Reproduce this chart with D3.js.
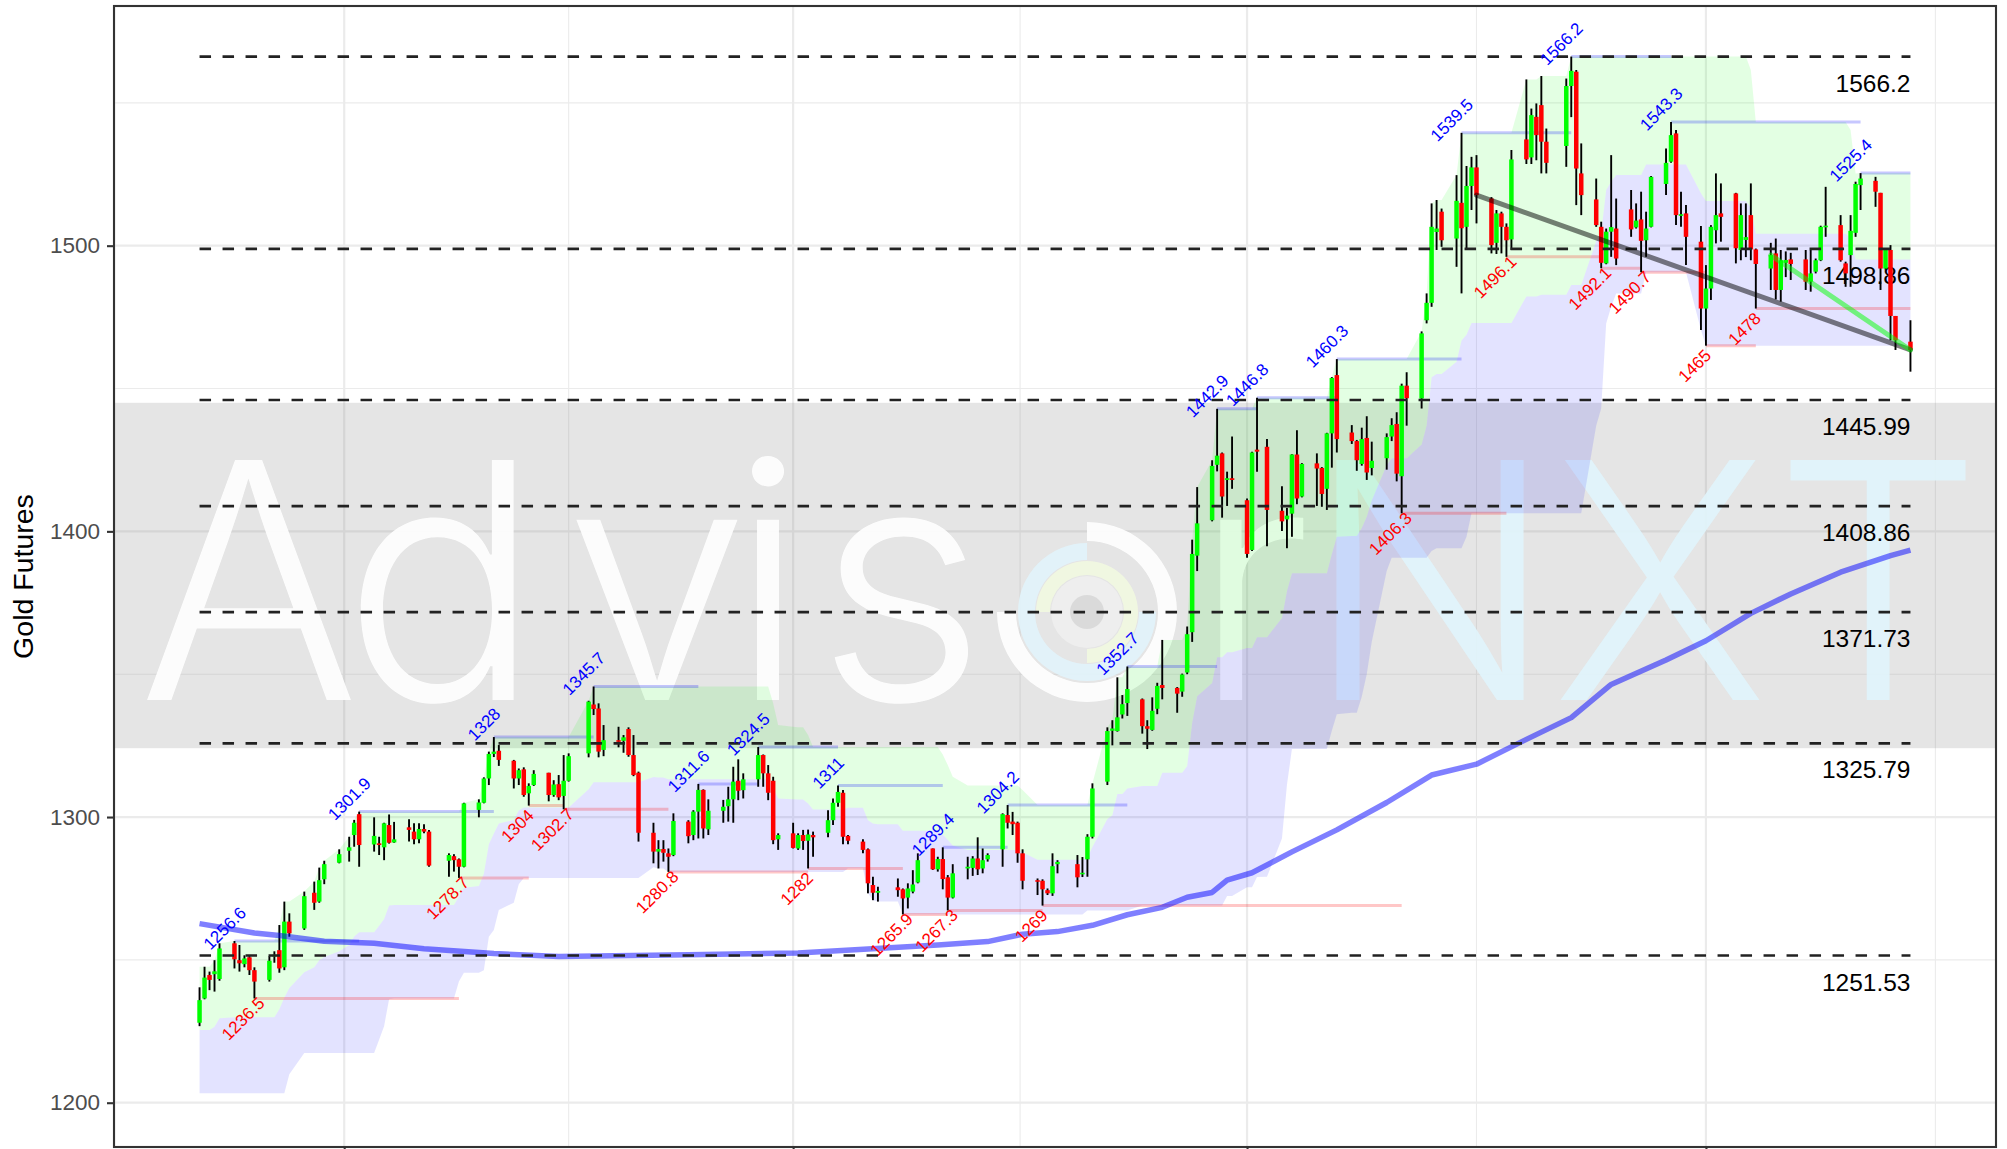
<!DOCTYPE html>
<html>
<head>
<meta charset="utf-8">
<script src="https://cdn.jsdelivr.net/npm/d3@7"></script>
<style>
  body { margin: 0; background: #fff; }
  svg { display: block; }
</style>
</head>
<body>
<div id="chart"></div>
<script>
// ---- candles (daily gold futures) ----
const dates = [
  "2018-12-03","2018-12-04","2018-12-05","2018-12-06","2018-12-07",
  "2018-12-10","2018-12-11","2018-12-12","2018-12-13","2018-12-14",
  "2018-12-17","2018-12-18","2018-12-19","2018-12-20","2018-12-21",
  "2018-12-24","2018-12-26","2018-12-27","2018-12-28",
  "2018-12-31","2019-01-02","2019-01-03","2019-01-04",
  "2019-01-07","2019-01-08","2019-01-09","2019-01-10","2019-01-11",
  "2019-01-14","2019-01-15","2019-01-16","2019-01-17","2019-01-18",
  "2019-01-22","2019-01-23","2019-01-24","2019-01-25",
  "2019-01-28","2019-01-29","2019-01-30","2019-01-31","2019-02-01",
  "2019-02-04","2019-02-05","2019-02-06","2019-02-07","2019-02-08",
  "2019-02-11","2019-02-12","2019-02-13","2019-02-14","2019-02-15",
  "2019-02-19","2019-02-20","2019-02-21","2019-02-22",
  "2019-02-25","2019-02-26","2019-02-27","2019-02-28","2019-03-01",
  "2019-03-04","2019-03-05","2019-03-06","2019-03-07","2019-03-08",
  "2019-03-11","2019-03-12","2019-03-13","2019-03-14","2019-03-15",
  "2019-03-18","2019-03-19","2019-03-20","2019-03-21","2019-03-22",
  "2019-03-25","2019-03-26","2019-03-27","2019-03-28","2019-03-29",
  "2019-04-01","2019-04-02","2019-04-03","2019-04-04","2019-04-05",
  "2019-04-08","2019-04-09","2019-04-10","2019-04-11","2019-04-12",
  "2019-04-15","2019-04-16","2019-04-17","2019-04-18",
  "2019-04-22","2019-04-23","2019-04-24","2019-04-25","2019-04-26",
  "2019-04-29","2019-04-30","2019-05-01","2019-05-02","2019-05-03",
  "2019-05-06","2019-05-07","2019-05-08","2019-05-09","2019-05-10",
  "2019-05-13","2019-05-14","2019-05-15","2019-05-16","2019-05-17",
  "2019-05-20","2019-05-21","2019-05-22","2019-05-23","2019-05-24",
  "2019-05-28","2019-05-29","2019-05-30","2019-05-31",
  "2019-06-03","2019-06-04","2019-06-05","2019-06-06","2019-06-07",
  "2019-06-10","2019-06-11","2019-06-12","2019-06-13","2019-06-14",
  "2019-06-17","2019-06-18","2019-06-19","2019-06-20","2019-06-21",
  "2019-06-24","2019-06-25","2019-06-26","2019-06-27","2019-06-28",
  "2019-07-01","2019-07-02","2019-07-03","2019-07-05",
  "2019-07-08","2019-07-09","2019-07-10","2019-07-11","2019-07-12",
  "2019-07-15","2019-07-16","2019-07-17","2019-07-18","2019-07-19",
  "2019-07-22","2019-07-23","2019-07-24","2019-07-25","2019-07-26",
  "2019-07-29","2019-07-30","2019-07-31","2019-08-01","2019-08-02",
  "2019-08-05","2019-08-06","2019-08-07","2019-08-08","2019-08-09",
  "2019-08-12","2019-08-13","2019-08-14","2019-08-15","2019-08-16",
  "2019-08-19","2019-08-20","2019-08-21","2019-08-22","2019-08-23",
  "2019-08-26","2019-08-27","2019-08-28","2019-08-29","2019-08-30",
  "2019-09-03","2019-09-04","2019-09-05","2019-09-06",
  "2019-09-09","2019-09-10","2019-09-11","2019-09-12","2019-09-13",
  "2019-09-16","2019-09-17","2019-09-18","2019-09-19","2019-09-20",
  "2019-09-23","2019-09-24","2019-09-25","2019-09-26","2019-09-27",
  "2019-09-30","2019-10-01","2019-10-02","2019-10-03","2019-10-04",
  "2019-10-07","2019-10-08","2019-10-09","2019-10-10","2019-10-11",
  "2019-10-14","2019-10-15","2019-10-16","2019-10-17","2019-10-18",
  "2019-10-21","2019-10-22","2019-10-23","2019-10-24","2019-10-25",
  "2019-10-28","2019-10-29","2019-10-30","2019-10-31","2019-11-01",
  "2019-11-04","2019-11-05","2019-11-06","2019-11-07","2019-11-08",
  "2019-11-11"
];

const opens = [
  1228.0,1236.5,1244.7,1245.0,1243.3, 1255.8,1249.9,1248.5,1250.9,1246.4,
  1243.0,1251.2,1253.4,1247.4,1263.4, 1261.0,1273.5,1270.4,1278.2,
  1284.0,1288.2,1293.7,1301.0, 1290.4,1290.8,1289.4,1297.2,1291.1,
  1296.4,1294.9,1292.2,1295.8,1294.9, 1284.7,1286.3,1285.2,1282.6,
  1302.5,1305.0,1313.5,1322.1,1323.2, 1319.7,1313.5,1316.7,1308.3,1311.2,
  1315.5,1307.7,1311.5,1307.4,1312.7, 1322.3,1339.4,1338.0,1323.5,
  1326.9,1326.7,1330.8,1321.7,1315.5, 1294.5,1287.9,1288.8,1287.3,1286.7,
  1298.4,1293.7,1301.9,1309.5,1295.7, 1302.2,1303.8,1306.2,1312.7,1309.4,
  1313.2,1321.7,1315.3,1312.7,1292.2, 1294.3,1289.0,1293.7,1291.7,1293.7,
  1294.5,1298.9,1305.0,1308.5,1293.4, 1291.4,1288.7,1276.2,1273.5,
  1275.4,1274.7,1271.8,1273.9,1277.1, 1289.0,1281.7,1285.3,1278.9,1271.8,
  1282.0,1282.2,1285.5,1282.0,1285.2, 1288.7,1300.7,1298.4,1298.0,1287.3,
  1277.9,1277.7,1274.4,1273.3,1283.5, 1283.5,1280.0,1285.2,1293.1,
  1312.4,1330.2,1330.1,1335.9,1339.9, 1341.2,1331.8,1330.5,1337.9,1346.2,
  1345.2,1343.9,1350.6,1364.7,1391.5, 1403.9,1423.3,1427.3,1418.0,1418.6,
  1410.9,1393.5,1428.6,1429.6, 1407.2,1404.2,1406.2,1426.9,1412.2,
  1423.8,1422.2,1414.9,1434.3,1454.7, 1434.6,1431.6,1423.6,1432.7,1422.2,
  1425.6,1433.2,1437.6,1419.3,1451.0, 1446.5,1473.9,1480.0,1504.8,1511.9,
  1502.5,1515.0,1506.6,1520.9,1527.4, 1516.5,1501.0,1511.3,1506.6,1502.2,
  1537.2,1530.9,1545.1,1549.2,1536.4, 1534.9,1555.9,1560.9,1525.3,
  1516.2,1506.6,1493.8,1504.9,1506.0, 1512.7,1506.4,1509.2,1501.9,1506.6,
  1521.6,1529.4,1539.3,1510.5,1511.3, 1501.4,1478.0,1485.0,1505.4,1511.3,
  1518.3,1498.5,1502.0,1510.7,1498.7, 1492.0,1497.3,1484.5,1494.0,1495.2,
  1495.2,1487.4,1490.9,1494.9,1506.6, 1507.2,1493.8,1496.7,1504.5,1521.2,
  1522.7,1518.5,1492.0,1498.5,1475.4, 1466.4
];

const highs = [
  1240.4,1247.6,1245.9,1249.9,1255.8, 1256.6,1255.2,1251.6,1251.3,1247.4,
  1251.3,1253.0,1262.2,1270.4,1266.3, 1273.9,1277.4,1282.3,1284.7,
  1288.7,1293.1,1299.0,1301.9, 1299.9,1293.1,1298.0,1300.9,1298.3,
  1299.2,1297.8,1297.8,1297.5,1295.5, 1287.3,1287.0,1285.5,1305.0,
  1306.2,1313.9,1322.9,1328.0,1325.2, 1320.0,1317.0,1317.4,1311.8,1316.4,
  1315.5,1312.9,1314.7,1321.7,1322.3, 1340.7,1345.7,1339.8,1332.2,
  1331.6,1328.7,1331.4,1328.7,1315.9, 1298.0,1291.9,1291.9,1289.0,1301.3,
  1298.9,1302.4,1311.6,1309.7,1306.2, 1306.0,1310.6,1317.6,1320.2,1315.3,
  1324.5,1321.9,1318.2,1314.1,1294.3, 1298.0,1294.3,1295.5,1295.6,1294.9,
  1302.4,1306.5,1311.0,1309.5,1293.7, 1292.2,1289.0,1279.1,1275.6,
  1278.5,1275.0,1276.8,1281.4,1287.3, 1289.0,1286.1,1289.4,1279.7,1283.5,
  1286.1,1286.3,1292.9,1289.0,1287.3, 1301.3,1304.2,1301.8,1298.4,1288.7,
  1278.5,1278.2,1275.0,1287.3,1284.9, 1286.7,1286.0,1294.0,1311.8,
  1331.4,1333.9,1348.9,1342.7,1352.7, 1341.5,1333.9,1341.9,1347.0,1362.0,
  1345.5,1350.2,1366.7,1397.1,1415.5, 1424.9,1442.9,1427.6,1420.9,1433.2,
  1411.5,1427.9,1446.8,1432.3, 1415.8,1408.2,1427.0,1435.4,1423.9,
  1427.3,1422.5,1434.5,1454.0,1460.3, 1437.2,1432.0,1436.3,1440.3,1431.4,
  1434.3,1439.6,1441.7,1451.7,1455.7, 1470.0,1483.3,1514.8,1516.0,1513.0,
  1524.7,1539.5,1527.9,1531.1,1531.7, 1517.0,1512.5,1511.9,1507.8,1533.5,
  1558.2,1548.0,1549.8,1559.4,1541.0, 1558.5,1566.2,1561.5,1535.8,
  1523.5,1508.4,1506.0,1531.7,1516.5, 1519.5,1514.8,1518.9,1511.9,1524.4,
  1534.0,1543.3,1540.5,1518.9,1514.2, 1506.9,1493.2,1507.2,1525.3,1521.8,
  1518.5,1514.8,1514.8,1521.8,1499.0, 1501.0,1502.5,1498.5,1498.0,1497.5,
  1498.5,1498.5,1495.5,1507.0,1520.6, 1510.7,1494.4,1510.7,1522.4,1525.4,
  1524.1,1518.5,1499.1,1500.2,1475.4, 1473.9
];

const lows = [
  1226.8,1236.2,1239.4,1238.9,1242.7, 1247.0,1245.9,1247.4,1244.7,1236.5,
  1242.4,1249.0,1245.5,1246.4,1258.1, 1260.5,1267.5,1270.0,1276.5,
  1283.8,1284.4,1289.6,1282.6, 1287.9,1286.7,1284.9,1290.7,1291.0,
  1291.4,1290.5,1290.8,1294.3,1282.6, 1279.1,1280.9,1278.7,1282.4,
  1299.9,1304.8,1311.2,1321.0,1317.9, 1310.0,1311.2,1307.1,1304.0,1310.9,
  1305.5,1307.1,1305.9,1302.7,1312.4, 1320.9,1335.7,1320.9,1321.3,
  1324.4,1322.5,1321.1,1314.3,1291.4, 1283.8,1282.0,1284.4,1280.8,1286.3,
  1290.8,1291.9,1292.5,1292.5,1293.7, 1298.0,1298.4,1298.0,1305.9,1306.5,
  1310.6,1310.6,1305.9,1290.5,1288.5, 1289.0,1288.5,1288.5,1282.0,1286.1,
  1292.9,1297.2,1303.6,1290.5,1290.5, 1287.3,1273.3,1270.9,1270.4,
  1272.1,1265.9,1268.0,1273.3,1276.8, 1281.5,1280.9,1274.7,1267.3,1271.5,
  1278.2,1279.4,1279.7,1280.3,1284.4, 1282.6,1296.0,1293.7,1284.0,1274.7,
  1272.7,1269.0,1272.7,1272.4,1280.3, 1275.4,1279.0,1279.1,1292.5,
  1311.2,1325.1,1329.9,1334.5,1335.4, 1329.2,1323.8,1330.2,1336.0,1341.2,
  1336.5,1342.1,1350.0,1361.3,1386.1, 1403.5,1421.0,1404.8,1408.9,1414.9,
  1390.8,1393.1,1420.9,1394.8, 1400.1,1394.1,1398.1,1409.5,1411.9,
  1408.9,1408.6,1407.5,1422.3,1427.6, 1430.6,1421.2,1423.0,1418.0,1419.6,
  1421.6,1431.6,1417.5,1406.3,1437.0, 1443.0,1472.8,1478.6,1498.5,1499.6,
  1492.6,1483.3,1498.5,1512.5,1507.8, 1497.3,1497.1,1497.3,1496.1,1498.5,
  1528.6,1528.6,1529.9,1525.3,1525.3, 1527.6,1545.0,1514.2,1510.7,
  1506.6,1492.1,1493.5,1496.1,1493.2, 1503.1,1506.0,1490.7,1496.1,1506.4,
  1517.7,1529.0,1507.2,1506.6,1493.2, 1470.5,1465.0,1481.0,1500.8,1501.4,
  1493.8,1494.9,1496.0,1494.9,1478.0, 1484.5,1481.2,1480.4,1489.0,1488.0,
  1484.5,1483.9,1490.3,1494.6,1503.1, 1494.4,1485.6,1485.6,1503.1,1512.5,
  1513.6,1484.5,1491.6,1466.9,1463.5, 1455.9
];

const closes = [
  1235.9,1243.8,1243.0,1246.0,1254.0, 1250.2,1248.8,1250.5,1246.4,1242.4,
  1249.7,1251.8,1247.0,1263.4,1259.3, 1272.3,1270.0,1277.9,1283.5,
  1287.0,1289.4,1298.0,1290.2, 1293.4,1290.2,1297.8,1291.0,1292.2,
  1295.5,1292.2,1295.8,1294.9,1283.0, 1286.7,1284.9,1282.6,1304.8,
  1305.1,1313.5,1322.1,1322.9,1320.0, 1313.5,1316.4,1307.7,1310.9,1315.1,
  1307.7,1311.4,1306.9,1312.7,1321.3, 1340.4,1337.8,1322.9,1326.9,
  1326.4,1327.9,1321.7,1314.7,1294.5, 1287.9,1288.8,1287.5,1286.1,1298.6,
  1293.3,1301.9,1309.5,1296.0,1302.2, 1303.6,1306.2,1312.4,1309.2,1313.2,
  1321.7,1315.3,1308.5,1291.9,1293.7, 1289.2,1293.7,1291.6,1293.9,1292.9,
  1298.9,1305.0,1308.8,1293.1,1291.7, 1288.5,1276.8,1273.5,1274.1,
  1274.4,1271.5,1275.0,1276.4,1284.9, 1281.7,1285.3,1278.3,1271.8,1280.3,
  1282.6,1285.5,1281.7,1284.9,1286.7, 1301.0,1298.0,1297.5,1287.3,1277.7,
  1277.4,1274.7,1273.3,1282.8,1284.3, 1278.9,1280.5,1293.1,1310.0,
  1330.1,1331.0,1334.9,1339.5,1344.8, 1331.8,1330.9,1337.2,1345.9,1345.2,
  1343.2,1349.9,1364.0,1392.1,1402.8, 1422.9,1426.5,1412.2,1418.6,1418.0,
  1392.1,1427.6,1427.9,1407.5, 1403.5,1405.5,1426.9,1411.5,1423.6,
  1422.0,1413.1,1434.3,1453.7,1432.3, 1431.6,1424.9,1432.3,1420.6,1424.7,
  1433.0,1437.2,1420.2,1451.0,1446.6, 1469.3,1480.0,1506.6,1506.0,1501.9,
  1515.7,1506.1,1520.9,1527.4,1517.7, 1500.2,1511.3,1506.6,1501.9,1530.2,
  1530.2,1545.7,1538.7,1536.4,1529.0, 1555.9,1561.2,1527.0,1517.7,
  1507.2,1494.0,1504.9,1506.5,1495.5, 1505.7,1508.8,1501.7,1506.0,1524.1,
  1529.0,1538.7,1510.7,1511.0,1503.1, 1478.0,1485.0,1506.6,1510.7,1510.1,
  1499.1,1510.7,1503.0,1498.7,1493.6, 1496.7,1484.5,1494.9,1495.0,1493.6,
  1487.4,1490.3,1494.9,1506.6,1507.0, 1494.9,1490.3,1505.2,1521.6,1523.5,
  1518.9,1492.0,1498.7,1475.4,1466.9, 1463.5
];

// ---- 26-day channel: values where each edge changes ----
const chanHigh = [
  ["2018-12-03",1247.6],["2018-12-06",1249.9],["2018-12-07",1255.8],["2018-12-10",1256.6],
  ["2018-12-19",1262.2],["2018-12-20",1270.4],["2018-12-24",1273.9],["2018-12-26",1277.4],
  ["2018-12-27",1282.3],["2018-12-28",1284.7],["2018-12-31",1288.7],["2019-01-02",1293.1],
  ["2019-01-03",1299.0],["2019-01-04",1301.9],["2019-01-25",1305.0],["2019-01-28",1306.2],
  ["2019-01-29",1313.9],["2019-01-30",1322.9],["2019-01-31",1328.0],["2019-02-19",1340.7],
  ["2019-02-20",1345.7],["2019-03-28",1339.8],["2019-03-29",1332.2],["2019-04-01",1331.6],
  ["2019-04-02",1331.4],["2019-04-04",1328.7],["2019-04-05",1324.5],["2019-05-01",1321.9],
  ["2019-05-02",1318.2],["2019-05-03",1314.1],["2019-05-06",1311.0],["2019-05-17",1309.5],
  ["2019-05-20",1304.2],["2019-05-31",1311.8],["2019-06-03",1331.4],["2019-06-04",1333.9],
  ["2019-06-05",1348.9],["2019-06-07",1352.7],["2019-06-14",1362.0],["2019-06-19",1366.7],
  ["2019-06-20",1397.1],["2019-06-21",1415.5],["2019-06-24",1424.9],["2019-06-25",1442.9],
  ["2019-07-03",1446.8],["2019-07-18",1454.0],["2019-07-19",1460.3],["2019-08-05",1470.0],
  ["2019-08-06",1483.3],["2019-08-07",1514.8],["2019-08-08",1516.0],["2019-08-12",1524.7],
  ["2019-08-13",1539.5],["2019-08-26",1558.2],["2019-08-29",1559.4],["2019-09-04",1566.2],
  ["2019-10-10",1561.5],["2019-10-11",1543.3],["2019-10-30",1540.5],["2019-10-31",1525.3],
  ["2019-11-01",1525.4]
];

const chanMid = [
  ["2018-12-03",1225.45],["2018-12-06",1226.6],["2018-12-07",1229.55],["2018-12-10",1229.95],
  ["2018-12-19",1232.75],["2018-12-20",1236.85],["2018-12-21",1240.2],["2018-12-24",1245.65],
  ["2018-12-26",1247.4],["2018-12-27",1249.85],["2018-12-28",1251.05],["2018-12-31",1253.05],
  ["2019-01-02",1255.25],["2019-01-03",1258.2],["2019-01-04",1259.65],["2019-01-08",1261.95],
  ["2019-01-09",1264.35],["2019-01-10",1269.05],["2019-01-11",1269.2],["2019-01-24",1272.15],
  ["2019-01-25",1275.25],["2019-01-28",1275.85],["2019-01-29",1280.15],["2019-01-30",1290.5],
  ["2019-01-31",1294.25],["2019-02-01",1297.75],["2019-02-04",1299.0],["2019-02-05",1302.25],
  ["2019-02-06",1303.35],["2019-02-19",1309.7],["2019-02-20",1312.2],["2019-03-04",1314.05],
  ["2019-03-05",1313.85],["2019-03-07",1313.25],["2019-03-28",1310.3],["2019-03-29",1306.5],
  ["2019-04-01",1306.2],["2019-04-02",1306.1],["2019-04-04",1304.75],["2019-04-05",1302.65],
  ["2019-04-12",1303.25],["2019-04-16",1298.9],["2019-04-17",1297.7],["2019-04-18",1297.45],
  ["2019-04-23",1295.2],["2019-05-01",1293.9],["2019-05-02",1292.05],["2019-05-03",1290.0],
  ["2019-05-06",1288.45],["2019-05-17",1287.7],["2019-05-20",1285.05],["2019-05-30",1285.75],
  ["2019-05-31",1289.55],["2019-06-03",1299.35],["2019-06-04",1300.6],["2019-06-05",1308.1],
  ["2019-06-07",1310.0],["2019-06-10",1310.85],["2019-06-14",1315.5],["2019-06-19",1317.85],
  ["2019-06-20",1333.05],["2019-06-21",1342.25],["2019-06-24",1346.95],["2019-06-25",1355.95],
  ["2019-06-27",1357.65],["2019-07-01",1359.15],["2019-07-03",1362.9],["2019-07-05",1362.95],
  ["2019-07-08",1369.65],["2019-07-09",1379.0],["2019-07-10",1385.3],["2019-07-18",1392.1],
  ["2019-07-19",1398.15],["2019-07-22",1398.4],["2019-07-24",1401.2],["2019-07-25",1405.15],
  ["2019-07-26",1410.8],["2019-07-29",1423.2],["2019-07-30",1425.55],["2019-08-05",1430.4],
  ["2019-08-06",1437.05],["2019-08-07",1453.95],["2019-08-08",1455.05],["2019-08-12",1459.4],
  ["2019-08-13",1466.8],["2019-08-14",1468.8],["2019-08-15",1472.9],["2019-08-26",1482.25],
  ["2019-08-29",1482.85],["2019-09-04",1486.25],["2019-09-09",1501.6],["2019-09-10",1504.6],
  ["2019-09-11",1519.5],["2019-09-12",1522.4],["2019-09-13",1524.75],["2019-09-19",1528.45],
  ["2019-09-30",1518.35],["2019-10-01",1515.6],["2019-10-10",1513.25],["2019-10-11",1504.15],
  ["2019-10-30",1502.75],["2019-10-31",1495.15],["2019-11-01",1495.2]
];

const chanLow = [
  ["2018-12-03",1203.3],["2018-12-21",1210.0],["2018-12-24",1217.4],["2019-01-08",1222.0],
  ["2019-01-09",1226.8],["2019-01-10",1236.2],["2019-01-11",1236.5],["2019-01-24",1242.4],
  ["2019-01-25",1245.5],["2019-01-29",1246.4],["2019-01-30",1258.1],["2019-01-31",1260.5],
  ["2019-02-01",1267.5],["2019-02-04",1270.0],["2019-02-05",1276.5],["2019-02-06",1278.7],
  ["2019-03-04",1282.4],["2019-03-05",1282.0],["2019-03-07",1280.8],["2019-04-12",1282.0],
  ["2019-04-16",1273.3],["2019-04-17",1270.9],["2019-04-18",1270.4],["2019-04-23",1265.9],
  ["2019-05-30",1267.3],["2019-06-10",1269.0],["2019-06-27",1272.4],["2019-07-01",1275.4],
  ["2019-07-03",1279.0],["2019-07-05",1279.1],["2019-07-08",1292.5],["2019-07-09",1311.2],
  ["2019-07-10",1323.8],["2019-07-18",1330.2],["2019-07-19",1336.0],["2019-07-22",1336.5],
  ["2019-07-24",1342.1],["2019-07-25",1350.0],["2019-07-26",1361.3],["2019-07-29",1386.1],
  ["2019-07-30",1390.8],["2019-08-07",1393.1],["2019-08-08",1394.1],["2019-08-14",1398.1],
  ["2019-08-15",1406.3],["2019-09-09",1437.0],["2019-09-10",1443.0],["2019-09-11",1472.8],
  ["2019-09-12",1478.6],["2019-09-13",1483.3],["2019-09-19",1490.7],["2019-09-30",1470.5],
  ["2019-10-01",1465.0]
];

// ---- long moving average ----
const maLine = [
  ["2018-12-03",1262.7],["2018-12-14",1259.4],["2018-12-19",1258.5],["2018-12-28",1256.5],
  ["2019-01-07",1255.8],["2019-01-17",1253.9],["2019-01-31",1252.2],["2019-02-13",1251.2],
  ["2019-03-11",1251.8],["2019-04-02",1252.4],["2019-04-16",1253.8],["2019-04-30",1255.2],
  ["2019-05-10",1256.4],["2019-05-17",1259.0],["2019-05-24",1259.9],["2019-05-31",1262.1],
  ["2019-06-07",1265.8],["2019-06-14",1268.4],["2019-06-19",1271.9],["2019-06-24",1273.6],
  ["2019-06-27",1277.9],["2019-07-02",1280.5],["2019-07-10",1287.8],["2019-07-19",1295.5],
  ["2019-07-29",1305.1],["2019-08-07",1314.7],["2019-08-16",1318.5],["2019-08-26",1327.2],
  ["2019-09-04",1334.8],["2019-09-12",1346.4],["2019-09-23",1355.0],["2019-10-01",1361.7],
  ["2019-10-10",1371.3],["2019-10-18",1378.1],["2019-10-28",1385.7],["2019-11-07",1391.5],
  ["2019-11-11",1393.4]
];

// ---- pivots ----
const pivotHighDates = ["2018-12-10","2019-01-04","2019-01-31","2019-02-20","2019-03-13","2019-03-25",
  "2019-04-10","2019-05-01","2019-05-14","2019-06-07","2019-06-25","2019-07-03","2019-07-19",
  "2019-08-13","2019-09-04","2019-09-24","2019-11-01"];
const pivotHighVals = [1256.6,1301.9,1328,1345.7,1311.6,1324.5,1311,1289.4,1304.2,1352.7,1442.9,
  1446.8,1460.3,1539.5,1566.2,1543.3,1525.4];
const pivotLowDates = ["2018-12-14","2019-01-24","2019-02-07","2019-02-14","2019-03-07","2019-04-04",
  "2019-04-23","2019-05-02","2019-05-21","2019-08-01","2019-08-22","2019-09-10","2019-09-18",
  "2019-10-01","2019-10-11"];
const pivotLowVals = [1236.5,1278.7,1304,1302.7,1280.8,1282,1265.9,1267.3,1269,1406.3,1496.1,
  1492.1,1490.7,1465,1478];

// ---- levels, band, trend lines ----
const levelVals = [1566.2,1498.86,1445.99,1408.86,1371.73,1325.79,1251.53];
const levelLabels = ["1566.2","1498.86","1445.99","1408.86","1371.73","1325.79","1251.53"];
const bandRange = [1324.1, 1445.0];
const trendGrey = ["2019-08-16","2019-11-11"];
const trendGreen = ["2019-10-14","2019-11-11"];

const yTicks = [1200,1300,1400,1500];
const yMinorTicks = [1250,1350,1450,1550];
const yDomain = [1184.5, 1583.9];
const xMajorTicks = ["2018-10-01","2019-01-01","2019-04-01","2019-07-01","2019-10-01","2020-01-01"];

// ================= drawing =================
const W = 2007, H = 1149;
const panel = { left: 114, right: 1996, top: 6, bottom: 1147 };
const parse = d3.utcParse("%Y-%m-%d");
const font = "'Liberation Sans', Arial, Helvetica, sans-serif";

const candles = dates.map((d, i) => ({
  date: parse(d), o: opens[i], h: highs[i], l: lows[i], c: closes[i]
}));
const closeOn = ds => candles.find(c => +c.date === +parse(ds)).c;

const ext = d3.extent(candles, d => d.date);
const pad = (ext[1] - ext[0]) * 0.05;
const x = d3.scaleUtc()
  .domain([new Date(+ext[0] - pad), new Date(+ext[1] + pad)])
  .range([panel.left, panel.right]);
const y = d3.scaleLinear().domain(yDomain).range([panel.bottom, panel.top]);

const svg = d3.select("#chart").append("svg")
  .attr("width", W).attr("height", H);
svg.append("rect").attr("width", W).attr("height", H).attr("fill", "#fff");

svg.append("clipPath").attr("id", "clip")
  .append("rect")
  .attr("x", panel.left).attr("y", panel.top)
  .attr("width", panel.right - panel.left).attr("height", panel.bottom - panel.top);

const g = svg.append("g").attr("clip-path", "url(#clip)");

// grid
const majorX = xMajorTicks.map(parse);
const minorX = d3.pairs(majorX).map(([a, b]) => new Date((+a + +b) / 2));
g.selectAll(".gminy").data(yMinorTicks).enter().append("line")
  .attr("x1", panel.left).attr("x2", panel.right)
  .attr("y1", d => y(d)).attr("y2", d => y(d))
  .attr("stroke", "#ebebeb").attr("stroke-width", 1.1);
g.selectAll(".gminx").data(minorX).enter().append("line")
  .attr("y1", panel.top).attr("y2", panel.bottom)
  .attr("x1", d => x(d)).attr("x2", d => x(d))
  .attr("stroke", "#ebebeb").attr("stroke-width", 1.1);
g.selectAll(".gmajy").data(yTicks).enter().append("line")
  .attr("x1", panel.left).attr("x2", panel.right)
  .attr("y1", d => y(d)).attr("y2", d => y(d))
  .attr("stroke", "#ebebeb").attr("stroke-width", 2.2);
g.selectAll(".gmajx").data(majorX).enter().append("line")
  .attr("y1", panel.top).attr("y2", panel.bottom)
  .attr("x1", d => x(d)).attr("x2", d => x(d))
  .attr("stroke", "#ebebeb").attr("stroke-width", 2.2);

// grey band
g.append("rect")
  .attr("x", panel.left).attr("width", panel.right - panel.left)
  .attr("y", y(bandRange[1])).attr("height", y(bandRange[0]) - y(bandRange[1]))
  .attr("fill", "#7f7f7f").attr("fill-opacity", 0.2);

// watermark
const wm = g.append("g").attr("opacity", 0.92);
const wmFont = "Inter, Lato, 'Open Sans', 'DejaVu Sans', sans-serif";
const wmLetters = [
  { ch: "A", cx: 249, col: "#ffffff" }, { ch: "d", cx: 442, col: "#ffffff" },
  { ch: "v", cx: 657, col: "#ffffff" }, { ch: "i", cx: 768, col: "#ffffff" },
  { ch: "s", cx: 901, col: "#ffffff" }, { ch: "r", cx: 1252, col: "#ffffff" },
  { ch: "N", cx: 1430, col: "#e1f5fc" }, { ch: "X", cx: 1660, col: "#e1f5fc" },
  { ch: "T", cx: 1878, col: "#e1f5fc" }
];
wm.selectAll("text").data(wmLetters).enter().append("text")
  .attr("x", d => d.cx).attr("y", 700)
  .attr("text-anchor", "middle")
  .attr("font-family", wmFont).attr("font-weight", 300)
  .attr("font-size", 330).attr("fill", d => d.col)
  .text(d => d.ch);
const logo = wm.append("g").attr("transform", "translate(1087,612)");
const arc = d3.arc();
logo.append("circle").attr("r", 36).attr("fill", "#efefef");
logo.append("circle").attr("r", 17).attr("fill", "#dadada");
logo.append("path").attr("fill", "#f2f9e1")
  .attr("d", arc({ innerRadius: 37, outerRadius: 51, startAngle: -Math.PI / 2, endAngle: Math.PI }));
logo.append("path").attr("fill", "#e2f4fb")
  .attr("d", arc({ innerRadius: 52, outerRadius: 69, startAngle: Math.PI / 2, endAngle: 2 * Math.PI }));
logo.append("path").attr("fill", "#ffffff")
  .attr("d", arc({ innerRadius: 71, outerRadius: 90, startAngle: 0, endAngle: 1.5 * Math.PI }));

// channel clouds
function stepper(breaks) {
  const bd = breaks.map(b => parse(b[0]));
  return dt => breaks[Math.max(0, d3.bisectRight(bd, dt) - 1)][1];
}
const hiAt = stepper(chanHigh), midAt = stepper(chanMid), loAt = stepper(chanLow);
g.append("path").datum(candles)
  .attr("fill", "#0000ff").attr("fill-opacity", 0.11)
  .attr("d", d3.area().x(d => x(d.date)).y0(d => y(loAt(d.date))).y1(d => y(midAt(d.date))));
g.append("path").datum(candles)
  .attr("fill", "#00ff00").attr("fill-opacity", 0.11)
  .attr("d", d3.area().x(d => x(d.date)).y0(d => y(midAt(d.date))).y1(d => y(hiAt(d.date))));

// pivot lines
const lastDate = ext[1];
function pivotSegs(ds, vs) {
  return ds.map((d, i) => ({
    d0: parse(d), d1: i < ds.length - 1 ? parse(ds[i + 1]) : lastDate, v: vs[i]
  }));
}
const hiSegs = pivotSegs(pivotHighDates, pivotHighVals);
const loSegs = pivotSegs(pivotLowDates, pivotLowVals);
g.selectAll(".phl").data(hiSegs).enter().append("line")
  .attr("x1", d => x(d.d0)).attr("x2", d => x(d.d1))
  .attr("y1", d => y(d.v)).attr("y2", d => y(d.v))
  .attr("stroke", "#0000ff").attr("stroke-opacity", 0.22).attr("stroke-width", 3);
g.selectAll(".pll").data(loSegs).enter().append("line")
  .attr("x1", d => x(d.d0)).attr("x2", d => x(d.d1))
  .attr("y1", d => y(d.v)).attr("y2", d => y(d.v))
  .attr("stroke", "#ff0000").attr("stroke-opacity", 0.22).attr("stroke-width", 3);

// level labels (under the candles)
g.selectAll(".lvlab").data(levelVals).enter().append("text")
  .attr("x", x(lastDate)).attr("y", d => y(d) + 35)
  .attr("text-anchor", "end")
  .attr("font-family", font).attr("font-size", 24.5).attr("fill", "#000")
  .text((d, i) => levelLabels[i]);

// candles
const bw = 4.5;
g.selectAll(".wick").data(candles).enter().append("line")
  .attr("x1", d => x(d.date)).attr("x2", d => x(d.date))
  .attr("y1", d => y(d.h)).attr("y2", d => y(d.l))
  .attr("stroke", "#000").attr("stroke-width", 1.9);
g.selectAll(".body").data(candles).enter().append("rect")
  .attr("x", d => x(d.date) - bw / 2).attr("width", bw)
  .attr("y", d => y(Math.max(d.o, d.c)))
  .attr("height", d => Math.max(1.6, Math.abs(y(d.o) - y(d.c))))
  .attr("fill", d => d.c >= d.o ? "#00ff00" : "#ff0000");

// moving average
g.append("path").datum(maLine)
  .attr("fill", "none").attr("stroke", "#0000ff").attr("stroke-opacity", 0.5)
  .attr("stroke-width", 5.5).attr("stroke-linejoin", "round")
  .attr("d", d3.line().x(d => x(parse(d[0]))).y(d => y(d[1])));

// dashed levels
g.selectAll(".lvl").data(levelVals).enter().append("line")
  .attr("x1", x(ext[0])).attr("x2", x(lastDate))
  .attr("y1", d => y(d)).attr("y2", d => y(d))
  .attr("stroke", "#222").attr("stroke-width", 2.7)
  .attr("stroke-dasharray", "11.5,11.5");

// trend lines
[[trendGrey, "#000000"], [trendGreen, "#00ff00"]].forEach(([pair, col]) => {
  g.append("path").datum(pair)
    .attr("fill", "none").attr("stroke", col).attr("stroke-opacity", 0.5)
    .attr("stroke-width", 5).attr("stroke-linecap", "round")
    .attr("d", d3.line().x(d => x(parse(d))).y(d => y(closeOn(d))));
});

// pivot labels
g.selectAll(".phlab").data(hiSegs).enter().append("text")
  .attr("transform", d => `translate(${x(d.d0) - 5.7},${y(d.v) - 8.7}) rotate(-45)`)
  .attr("text-anchor", "middle")
  .attr("font-family", font).attr("font-size", 17).attr("fill", "#0000ff")
  .text((d, i) => pivotHighVals[i]);
g.selectAll(".pllab").data(loSegs).enter().append("text")
  .attr("transform", d => `translate(${x(d.d0) - 7.2},${y(d.v) + 24.3}) rotate(-45)`)
  .attr("text-anchor", "middle")
  .attr("font-family", font).attr("font-size", 17).attr("fill", "#ff0000")
  .text((d, i) => pivotLowVals[i]);

// panel border and axes
svg.append("rect")
  .attr("x", panel.left).attr("y", panel.top)
  .attr("width", panel.right - panel.left).attr("height", panel.bottom - panel.top)
  .attr("fill", "none").attr("stroke", "#333").attr("stroke-width", 2.1);

const yAxis = svg.append("g")
  .attr("transform", `translate(${panel.left},0)`)
  .call(d3.axisLeft(y).tickValues(yTicks).tickSize(7).tickPadding(7).tickFormat(d3.format("d")));
yAxis.select(".domain").remove();
yAxis.selectAll("line").attr("stroke", "#333").attr("stroke-width", 2.1);
yAxis.selectAll("text").attr("font-family", font).attr("font-size", 22.5).attr("fill", "#4d4d4d");

const xAxis = svg.append("g")
  .attr("transform", `translate(0,${panel.bottom})`)
  .call(d3.axisBottom(x).tickValues(majorX.slice(1, 5)).tickSize(7).tickFormat(""));
xAxis.select(".domain").remove();
xAxis.selectAll("line").attr("stroke", "#333").attr("stroke-width", 2.1);

svg.append("text")
  .attr("transform", `translate(33,${(panel.top + panel.bottom) / 2}) rotate(-90)`)
  .attr("text-anchor", "middle")
  .attr("font-family", font).attr("font-size", 28.5).attr("fill", "#000")
  .text("Gold Futures");
</script>
</body>
</html>
